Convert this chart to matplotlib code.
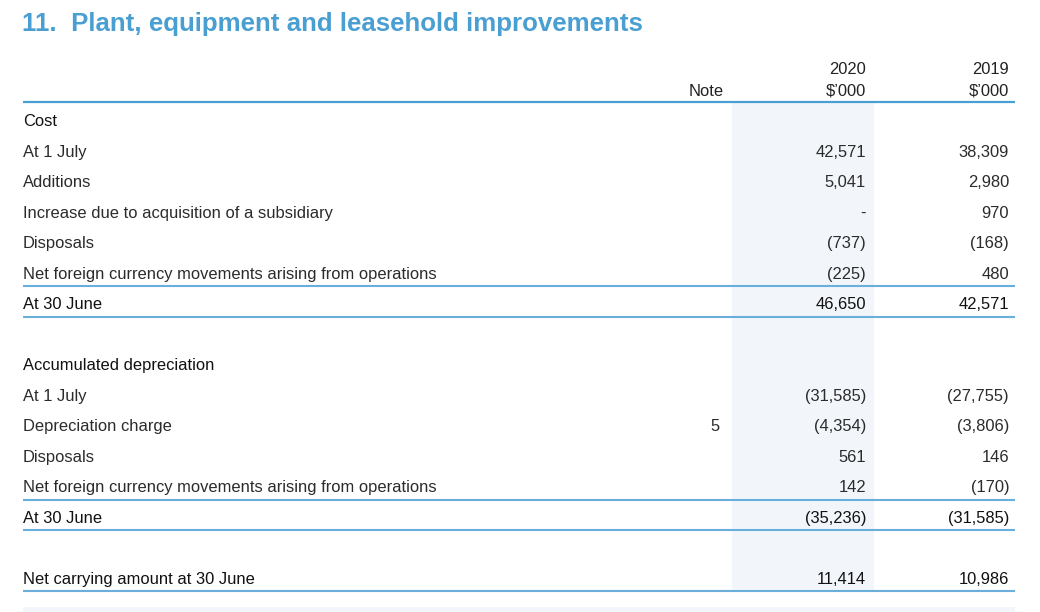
import matplotlib
matplotlib.use("Agg")
import matplotlib.pyplot as plt
from matplotlib.patches import Rectangle

plt.rcParams["font.family"] = ["Liberation Sans", "DejaVu Sans"]

TITLE = "11.  Plant, equipment and leasehold improvements"
YEARS = ["2020", "2019"]
UNIT = "$\u2019000"

# one entry per table slot; None = blank spacer row
LABELS = ["Cost", "At 1 July", "Additions", "Increase due to acquisition of a subsidiary",
          "Disposals", "Net foreign currency movements arising from operations", "At 30 June",
          None,
          "Accumulated depreciation", "At 1 July", "Depreciation charge", "Disposals",
          "Net foreign currency movements arising from operations", "At 30 June",
          None,
          "Net carrying amount at 30 June"]
NOTES = ["", "", "", "", "", "", "", None, "", "", "5", "", "", "", None, ""]
VAL_2020 = ["", "42,571", "5,041", "-", "(737)", "(225)", "46,650", None,
            "", "(31,585)", "(4,354)", "561", "142", "(35,236)", None, "11,414"]
VAL_2019 = ["", "38,309", "2,980", "970", "(168)", "480", "42,571", None,
            "", "(27,755)", "(3,806)", "146", "(170)", "(31,585)", None, "10,986"]
EMPH = [1, 0, 0, 0, 0, 0, 1, 0, 1, 0, 0, 0, 0, 1, 0, 1]   # medium-weight rows
RULE_BELOW = [0, 0, 0, 0, 0, 1, 1, 0, 0, 0, 0, 0, 1, 1, 0, 1]

W, H = 1040, 612
fig = plt.figure(figsize=(W / 100, H / 100), dpi=100)
ax = fig.add_axes([0, 0, 1, 1])
ax.set_xlim(0, W); ax.set_ylim(H, 0); ax.axis("off")

BLUE = "#4a9fd2"
RULE = "#6aafdc"
SHADE = "#f2f6fb"
X0, X1 = 23, 1015
X_NOTE, X_2020, X_2019 = 724, 866, 1009
Y_FIRST, STEP = 120, 30.47
FS = 11.9
DY = 2   # text centre offset (descender compensation)

ax.text(X0 - 1, 22 + DY, TITLE, fontsize=18.6, fontweight="bold", color=BLUE, va="center", ha="left")

# header
ax.text(X_NOTE, 89 + DY, "Note", fontsize=FS, color="#222", ha="right", va="center")
for x, yr in zip([X_2020, X_2019], YEARS):
    ax.text(x, 68 + DY, yr, fontsize=FS, color="#222", ha="right", va="center")
    ax.text(x, 89 + DY, UNIT, fontsize=FS, color="#222", ha="right", va="center")

y_last = Y_FIRST + STEP * (len(LABELS) - 1)
ax.add_patch(Rectangle((732, 103), 874 - 732, y_last + 13 - 103, color=SHADE, lw=0, zorder=0))
ax.add_patch(Rectangle((X0, 607), X1 - X0, 6, color=SHADE, lw=0, zorder=0))
ax.plot([X0, X1], [102, 102], color=BLUE, lw=1.6, solid_capstyle="butt")

for i, lab in enumerate(LABELS):
    y = Y_FIRST + STEP * i
    if lab is None:
        continue
    col = "#111" if EMPH[i] else "#2b2b2b"
    ty = y + DY
    ax.text(X0, ty, lab, fontsize=FS, color=col, ha="left", va="center")
    ax.text(X_NOTE - 4, ty, NOTES[i], fontsize=FS, color=col, ha="right", va="center")
    ax.text(X_2020, ty, VAL_2020[i], fontsize=FS, color=col, ha="right", va="center")
    ax.text(X_2019, ty, VAL_2019[i], fontsize=FS, color=col, ha="right", va="center")
    if RULE_BELOW[i]:
        ax.plot([X0, X1], [y + 14, y + 14], color=RULE, lw=1.5, solid_capstyle="butt")

fig.savefig("out.png", dpi=100, facecolor="white")
